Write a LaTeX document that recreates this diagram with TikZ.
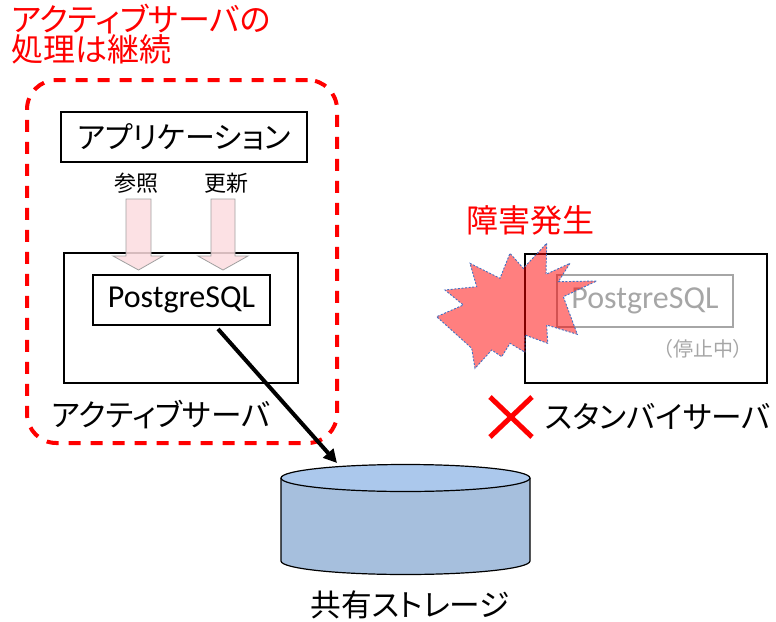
\documentclass[tikz,border=0pt]{standalone}
\usepackage{fontspec}
\setmainfont{Noto Sans CJK JP}[RawFeature=+palt]
\newfontfamily\pgfont{Carlito}
\usetikzlibrary{arrows.meta}
\definecolor{pinkfill}{HTML}{FCDCDF}
\definecolor{pinkline}{HTML}{A0A0A0}
\definecolor{graytxt}{HTML}{A6A6A6}
\definecolor{cylside}{HTML}{A6BFDD}
\definecolor{cyltop}{HTML}{ABC8EC}
\definecolor{starline}{HTML}{4472C4}
\begin{document}
\begin{tikzpicture}[x=0.75pt,y=-0.75pt,
  box/.style={draw=black, line width=0.9pt, inner sep=0pt},
  graybox/.style={draw=graytxt, line width=0.9pt, inner sep=0pt},
  jtext/.style={inner sep=0pt, font=\fontsize{23pt}{27pt}\selectfont},
  redtext/.style={jtext, text=red},
  titletext/.style={redtext, anchor=west, font=\fontsize{24pt}{28pt}\selectfont, text height=18pt, text depth=2pt},
  blockarrow/.style={fill=pinkfill, fill opacity=0.85, draw=pinkline, line width=0.6pt},
  groupbox/.style={draw=red, line width=3pt, dash pattern=on 9pt off 7.5pt, rounded corners=22pt, inner sep=0pt}
]
\path[use as bounding box] (0,0) rectangle (776,622);

% title
\node[titletext] (title1) at (11,21) {アクティブサーバの};
\node[titletext] (title2) at (11,51) {処理は継続};

% active group
\node[groupbox, minimum width=232.5pt, minimum height=272.25pt] (group) at (182,261.5) {};

% application
\node[box, minimum width=184.5pt, minimum height=37.5pt, font=\fontsize{22.5pt}{26pt}\selectfont] (app) at (184,137) {アプリケーション};
\node[jtext, font=\fontsize{16.5pt}{20pt}\selectfont] (ref) at (136,183) {参照};
\node[jtext, font=\fontsize{16.5pt}{20pt}\selectfont] (upd) at (226.5,183) {更新};

% active server
\node[box, minimum width=175.5pt, minimum height=97.5pt] (active) at (181,318) {};
\node[box, minimum width=132.75pt, minimum height=37.5pt, font=\pgfont\fontsize{24pt}{28pt}\selectfont] (pg) at (181.5,300) {PostgreSQL};
\node[jtext] (activelbl) at (161,415) {アクティブサーバ};

% pink block arrows
\draw[blockarrow] (126,199) -- (151,199) -- (151,256) -- (163,256) -- (138.5,270) -- (113,256) -- (126,256) -- cycle;
\draw[blockarrow] (211,199) -- (235,199) -- (235,256) -- (248,256) -- (223,270) -- (198,256) -- (211,256) -- cycle;

% shared storage cylinder
\path[fill=cylside, draw=black, line width=0.9pt] (281,478) -- (281,561)
  arc[start angle=180, end angle=360, x radius=93.375pt, y radius=10.125pt] -- (530,478);
\draw[fill=cyltop, line width=0.9pt] (405.5,478) ellipse[x radius=93.375pt, y radius=10.125pt];
\coordinate (stor) at (337,463);
\node[jtext] (storlbl) at (410,605) {共有ストレージ};

% arrow from PostgreSQL to storage
\coordinate (pgout) at (218,329);
\draw[line width=3pt, -{Triangle[length=10pt,width=10pt]}] (pgout) -- (stor);

% standby server
\node[box, minimum width=181.5pt, minimum height=96.75pt] (standby) at (646,318.5) {};
\node[graybox, minimum width=132pt, minimum height=39pt, text=graytxt, font=\pgfont\fontsize{24pt}{28pt}\selectfont] (pg2) at (645,301) {PostgreSQL};
\node[inner sep=0pt, text=graytxt, font=\fontsize{15pt}{18pt}\selectfont] (stopped) at (703,349) {（停止中）};

% failure star
\path[fill=red, fill opacity=0.5, draw=starline, line width=0.7pt, dash pattern=on 1.5pt off 1.2pt]
 (546.7,243.3) -- (546.0,274.3) -- (570.0,263.3) -- (558.3,281.7) -- (596.7,281.0) -- (563.3,296.7)
 -- (577.3,334.3) -- (546.7,325.0) -- (547.7,343.3) -- (525.0,335.0) -- (525.0,352.3) -- (510.0,343.3)
 -- (501.7,356.7) -- (491.7,350.0) -- (475.0,368.3) -- (471.7,348.3) -- (436.7,316.7) -- (463.3,305.0)
 -- (445.0,290.0) -- (476.7,286.7) -- (470.0,263.3) -- (500.0,278.3) -- (510.0,253.3) -- (523.3,268.3) -- cycle;
\node[redtext, font=\fontsize{24pt}{28pt}\selectfont] (fail) at (530,220) {障害発生};

% red cross and standby label
\coordinate (xa) at (490,397);
\coordinate (xb) at (532,437);
\coordinate (xc) at (532,397);
\coordinate (xd) at (490,437);
\draw[red, line width=3.75pt] (xa) -- (xb) (xc) -- (xd);
\node[jtext] (standbylbl) at (658,417) {スタンバイサーバ};
\end{tikzpicture}
\end{document}
